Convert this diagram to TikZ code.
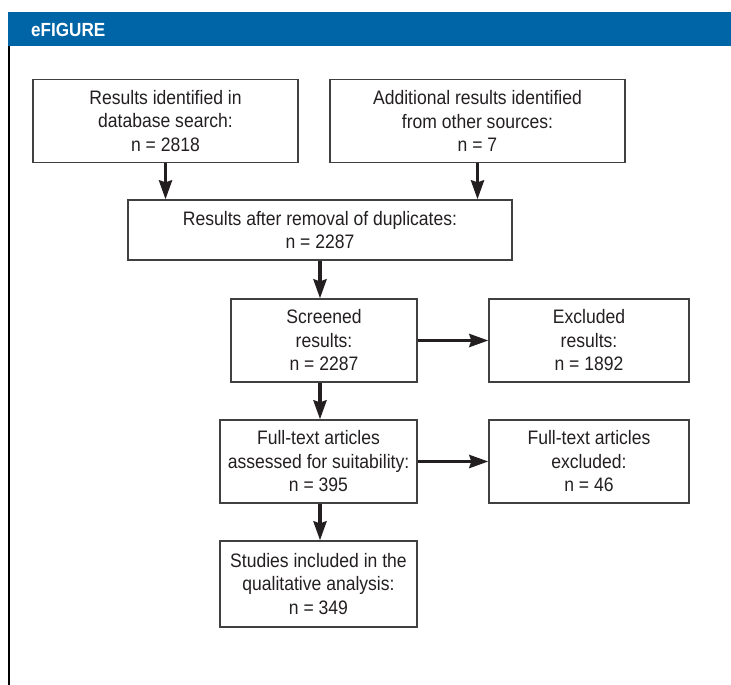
\documentclass[tikz,border=0pt]{standalone}
\usepackage{fontspec}
\setmainfont{Liberation Sans}[FakeStretch=0.9]
\usepackage{tikz}
\usetikzlibrary{arrows.meta}
\definecolor{hdrblue}{RGB}{0,101,166}
\definecolor{boxline}{RGB}{64,64,64}
\definecolor{txtgray}{RGB}{35,31,32}
\tikzset{
  box/.style={draw=boxline, line width=1.3pt, align=center, inner sep=0pt,
    text=txtgray, font=\fontsize{19.5}{23.5}\selectfont},
  flow/.style={line width=3.5pt, draw=txtgray,
    -{Stealth[length=19pt,width=13pt,inset=2pt]}},
}

\begin{document}
\begin{tikzpicture}[x=1pt, y=-1pt]
\newcommand{\boxh}{83}
\newcommand{\colw}{197}
\useasboundingbox (0,0) rectangle (731,685);
% header bar and frame
\fill[hdrblue] (8,12) rectangle (731,46);
\node[anchor=base west, text=white, inner sep=0pt,
  font=\fontsize{19}{22}\selectfont\bfseries] (title) at (31,36.5) {eFIGURE};
\draw[line width=2pt] (9,46) -- (9,685);
% boxes
\node[box, minimum width=265, minimum height=\boxh] (db) at (165.5,121)
  {Results identified in\\database search:\\n = 2818};
\node[box, minimum width=295, minimum height=\boxh] (other) at (477.5,121)
  {Additional results identified\\from other sources:\\n = 7};
\node[box, minimum width=384, minimum height=60] (dedup) at (320,230)
  {Results after removal of duplicates:\\n = 2287};
\node[box, minimum width=186, minimum height=\boxh] (screen) at (324,340.5)
  {Screened\\results:\\n = 2287};
\node[box, minimum width=200, minimum height=\boxh] (excl) at (589,340.5)
  {Excluded\\results:\\n = 1892};
\node[box, minimum width=\colw, minimum height=\boxh] (fulltext) at (318.5,461.5)
  {Full-text articles\\assessed for suitability:\\n = 395};
\node[box, minimum width=200, minimum height=\boxh] (ftexcl) at (589,461.5)
  {Full-text articles\\excluded:\\n = 46};
\node[box, minimum width=\colw, minimum height=86] (incl) at (318.5,584)
  {Studies included in the\\qualitative analysis:\\n = 349};
% connectors
\draw[flow] (db.south) -- (db.south |- dedup.north);
\draw[flow] (other.south) -- (other.south |- dedup.north);
\draw[flow] (dedup.south) -- (dedup.south |- screen.north);
\draw[flow] (screen.south -| dedup.south) -- (dedup.south |- fulltext.north);
\draw[flow] (fulltext.south -| dedup.south) -- (dedup.south |- incl.north);
\draw[flow] (screen.east) -- (excl.west);
\draw[flow] (fulltext.east) -- (ftexcl.west);
\end{tikzpicture}
\end{document}
